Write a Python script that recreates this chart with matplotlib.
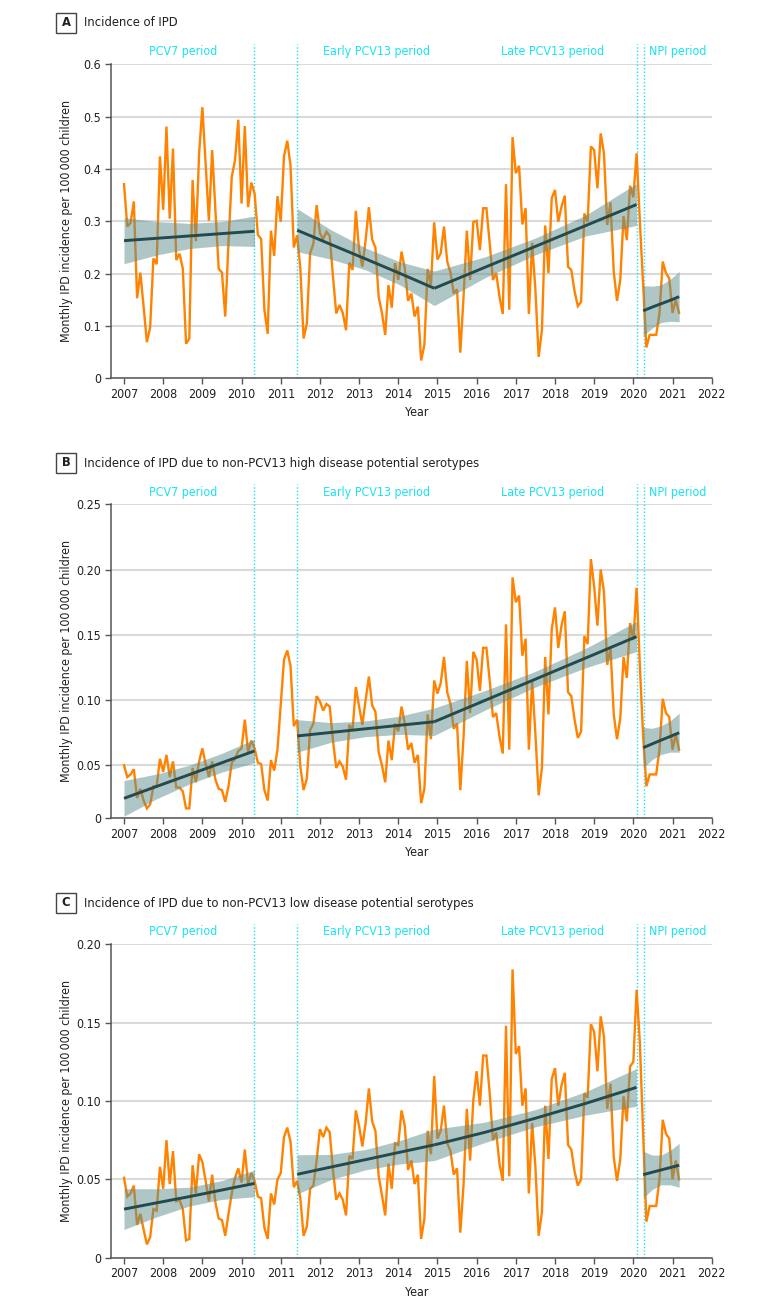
import numpy as np
import matplotlib
matplotlib.use("Agg")
import matplotlib.pyplot as plt
import matplotlib.font_manager as fm
from matplotlib.patches import Rectangle

# ---------------- data ----------------
start_year = 2007
n_months = 171

ipd_all = [
    .371, .290, .297, .338, .153, .202, .137, .069, .097, .229, .218, .424,
    .322, .481, .305, .439, .226, .238, .210, .066, .076, .379, .262, .430,
    .518, .410, .301, .436, .320, .209, .202, .118, .260, .385, .417, .494,
    .334, .482, .327, .374, .353, .274, .266, .131, .085, .282, .234, .348,
    .299, .424, .454, .406, .250, .273, .210, .076, .105, .239, .257, .331,
    .277, .266, .280, .272, .194, .124, .140, .125, .092, .221, .207, .320,
    .245, .213, .264, .327, .265, .250, .155, .125, .083, .178, .135, .220,
    .188, .242, .210, .148, .162, .118, .137, .034, .064, .209, .178, .298,
    .227, .239, .290, .223, .202, .162, .170, .049, .156, .282, .188, .299,
    .301, .245, .325, .325, .258, .188, .201, .156, .123, .371, .131, .461,
    .392, .406, .294, .325, .123, .259, .169, .041, .092, .292, .201, .344,
    .360, .299, .328, .349, .213, .207, .166, .138, .146, .315, .299, .443,
    .436, .363, .468, .430, .293, .336, .204, .148, .188, .310, .264, .368,
    .346, .430, .299, .180, .059, .083, .083, .083, .124, .223, .201, .191,
    .125, .150, .125]

ipd_high = [
    .050, .041, .043, .047, .025, .032, .023, .017, .020, .034, .034, .055,
    .045, .058, .041, .053, .033, .033, .030, .017, .017, .048, .037, .053,
    .063, .051, .041, .053, .039, .032, .031, .022, .034, .052, .055, .061,
    .063, .085, .060, .069, .063, .052, .051, .031, .023, .054, .046, .062,
    .097, .131, .138, .126, .080, .085, .049, .031, .040, .077, .082, .103,
    .099, .092, .097, .095, .069, .048, .053, .049, .039, .081, .077, .110,
    .095, .081, .100, .118, .096, .091, .060, .050, .037, .069, .054, .082,
    .076, .095, .082, .062, .067, .052, .058, .021, .032, .089, .070, .115,
    .105, .113, .133, .106, .097, .078, .082, .031, .072, .130, .090, .137,
    .131, .107, .140, .140, .115, .087, .090, .072, .059, .158, .062, .194,
    .175, .180, .134, .147, .062, .115, .074, .027, .048, .133, .089, .154,
    .171, .140, .157, .168, .106, .103, .085, .071, .076, .149, .143, .208,
    .187, .157, .200, .183, .127, .140, .089, .070, .086, .133, .117, .159,
    .146, .186, .126, .072, .034, .043, .043, .043, .062, .101, .090, .087,
    .062, .074, .062]

ipd_low = [
    .051, .039, .041, .046, .021, .028, .018, .0085, .013, .031, .030, .058,
    .044, .075, .047, .068, .036, .037, .031, .011, .012, .059, .041, .066,
    .061, .049, .036, .053, .035, .025, .024, .014, .028, .041, .051, .057,
    .048, .069, .047, .054, .049, .039, .038, .019, .012, .041, .034, .050,
    .054, .077, .083, .074, .045, .049, .038, .014, .020, .044, .046, .062,
    .082, .077, .083, .080, .056, .037, .041, .037, .027, .065, .063, .094,
    .084, .071, .086, .108, .087, .081, .052, .040, .027, .060, .044, .073,
    .072, .094, .084, .056, .062, .047, .053, .012, .025, .081, .066, .116,
    .076, .081, .097, .073, .068, .053, .057, .016, .047, .095, .062, .101,
    .119, .097, .129, .129, .105, .075, .080, .060, .049, .148, .052, .184,
    .130, .135, .097, .108, .041, .086, .058, .014, .029, .097, .063, .114,
    .121, .097, .110, .118, .072, .069, .055, .046, .050, .105, .102, .149,
    .144, .119, .154, .141, .095, .111, .064, .049, .063, .103, .087, .122,
    .125, .171, .137, .079, .023, .033, .033, .033, .050, .088, .079, .076,
    .050, .062, .050]

# segmented trend fits: (year, fitted value, CI half-width)
seg_years = {
    "pcv7":  [2007.00, 2007.83, 2008.67, 2009.50, 2010.33],
    "early": [2011.42, 2012.29, 2013.17, 2014.04, 2014.92],
    "late":  [2014.92, 2016.21, 2017.50, 2018.79, 2020.08],
    "npi":   [2020.25, 2020.48, 2020.71, 2020.94, 2021.17],
}
fit_all = {
    "pcv7":  ([.263, .2675, .272, .2765, .281], [.044, .032, .024, .023, .029]),
    "early": ([.283, .2555, .228, .2005, .172], [.041, .028, .021, .022, .033]),
    "late":  ([.172, .212, .252, .292, .332],   [.033, .020, .016, .020, .040]),
    "npi":   ([.129, .136, .1425, .149, .156],  [.048, .040, .036, .040, .048]),
}
fit_high = {
    "pcv7":  ([.0247, .0338, .0429, .052, .061], [.0137, .0095, .0072, .0072, .009]),
    "early": ([.0725, .0752, .078, .0807, .0834], [.0125, .0075, .006, .007, .0105]),
    "late":  ([.0834, .0997, .116, .1323, .1486], [.0105, .0075, .006, .0075, .0115]),
    "npi":   ([.0635, .0664, .0693, .0721, .075], [.0155, .012, .011, .012, .015]),
}
fit_low = {
    "pcv7":  ([.031, .035, .039, .0432, .0474], [.013, .009, .006, .006, .0085]),
    "early": ([.0532, .0579, .0626, .0673, .072], [.0125, .008, .0065, .0075, .010]),
    "late":  ([.072, .080, .089, .0985, .1087], [.010, .0065, .0055, .0075, .012]),
    "npi":   ([.053, .0545, .056, .0575, .059], [.015, .011, .0095, .011, .014]),
}

period_lines = [2010.33, 2011.42, 2020.10, 2020.26]
period_labels = ["PCV7 period", "Early PCV13 period", "Late PCV13 period", "NPI period"]
period_label_x = [2008.5, 2013.45, 2017.95, 2021.14]

year_ticks = list(range(2007, 2023))

panels = [
    dict(letter="A", title="Incidence of IPD", data=ipd_all, fit=fit_all,
         ylim=(0, 0.6), yticks=[0, .1, .2, .3, .4, .5, .6],
         ylabels=["0", "0.1", "0.2", "0.3", "0.4", "0.5", "0.6"]),
    dict(letter="B", title="Incidence of IPD due to non-PCV13 high disease potential serotypes",
         data=ipd_high, fit=fit_high,
         ylim=(0.0094, 0.25), yticks=[0.0094, .05, .10, .15, .20, .25],
         ylabels=["0", "0.05", "0.10", "0.15", "0.20", "0.25"]),
    dict(letter="C", title="Incidence of IPD due to non-PCV13 low disease potential serotypes",
         data=ipd_low, fit=fit_low,
         ylim=(0, 0.20), yticks=[0, .05, .10, .15, .20],
         ylabels=["0", "0.05", "0.10", "0.15", "0.20"]),
]

# ---------------- style ----------------
fonts = fm.fontManager.ttflist
avail = {f.name for f in fonts}
has_dejavu_cond = any(f.name == "DejaVu Sans" and str(f.stretch) in ("condensed", "semi-condensed", "600", "500")
                      for f in fonts)
if "Liberation Sans Narrow" in avail:
    plt.rcParams["font.family"] = ["Liberation Sans Narrow", "DejaVu Sans"]
    FS, FT = 10, 10.5
elif has_dejavu_cond:
    plt.rcParams["font.family"] = ["DejaVu Sans"]
    plt.rcParams["font.stretch"] = "condensed"
    FS, FT = 8.9, 9.3
else:
    plt.rcParams["font.family"] = ["DejaVu Sans"]
    FS, FT = 8.3, 8.8

ORANGE = "#ff8200"
TREND = "#234a4c"
BAND = "#5f8f8f"
CYAN = "#19e3f0"
GRID = "#dadada"
SPINE = "#555555"
TXT = "#231f20"

W, H = 780, 1313
fig = plt.figure(figsize=(W / 100, H / 100), dpi=100)

ax_left, ax_right = 110.7, 711.7
ax_tops = [64.3, 504.3, 944.3]
ax_bots = [378.3, 818.3, 1257.7]

months = start_year + np.arange(n_months) / 12.0

for p, top, bot in zip(panels, ax_tops, ax_bots):
    ax = fig.add_axes([ax_left / W, 1 - bot / H, (ax_right - ax_left) / W, (bot - top) / H])
    hpx = bot - top
    ax.set_xlim(2006.66, 2022.0)
    ax.set_ylim(*p["ylim"])
    ax.set_yticks(p["yticks"])
    ax.set_yticklabels(p["ylabels"])
    ax.set_xticks(year_ticks)
    ax.set_xticklabels([str(y) for y in year_ticks])
    for s in ["top", "right"]:
        ax.spines[s].set_visible(False)
    for s in ["left", "bottom"]:
        ax.spines[s].set_color(SPINE)
        ax.spines[s].set_linewidth(1.1)
    ax.yaxis.grid(True, color=GRID, lw=1.5, zorder=0)
    ax.set_axisbelow(True)
    ax.tick_params(direction="out", length=4, width=1, color=SPINE, labelsize=FS,
                   labelcolor=TXT, pad=3)

    # observed monthly series
    ax.plot(months[:len(p["data"])], p["data"], color=ORANGE, lw=1.7, zorder=2,
            solid_joinstyle="miter")

    # fitted segments and CI bands
    for key in ["pcv7", "early", "late", "npi"]:
        xs = np.array(seg_years[key])
        fit, hw = p["fit"][key]
        fit = np.array(fit)
        hw = np.array(hw)
        ax.fill_between(xs, fit - hw, fit + hw, color=BAND, alpha=0.5, lw=0, zorder=3)
        ax.plot(xs, fit, color=TREND, lw=2.1, zorder=4, solid_capstyle="butt")

    # period dividers and labels
    for xl in period_lines:
        ax.axvline(xl, ymin=0, ymax=1 + 20.5 / hpx, color=CYAN, lw=1.0,
                   ls=(0, (1, 1.5)), clip_on=False, zorder=1)
    for lab, xc in zip(period_labels, period_label_x):
        ax.text(xc, 1 + 12.3 / hpx, lab, transform=ax.get_xaxis_transform(),
                ha="center", va="center", color=CYAN, fontsize=FS)

    ax.set_ylabel("Monthly IPD incidence per 100\u2009000 children", fontsize=FS, color=TXT)
    ax.yaxis.label.set_va("center")
    ax.yaxis.set_label_coords((66.5 - ax_left) / (ax_right - ax_left), 0.5)
    ax.set_xlabel("Year", fontsize=FS, color=TXT)
    ax.xaxis.label.set_va("center")
    ax.xaxis.set_label_coords(0.51, -34.3 / hpx)

    # panel letter box + title
    by0 = top - 51.3
    fig.patches.append(Rectangle((56 / W, 1 - (by0 + 20) / H), 20 / W, 20 / H,
                                 transform=fig.transFigure, fill=False,
                                 edgecolor="#444444", lw=1.0))
    fig.text(66 / W, 1 - (by0 + 10) / H, p["letter"], ha="center", va="center",
             fontsize=FT, fontweight="bold", color=TXT)
    fig.text(84 / W, 1 - (by0 + 10) / H, p["title"], ha="left", va="center",
             fontsize=FT, color=TXT)

fig.savefig("out.png", dpi=100)
